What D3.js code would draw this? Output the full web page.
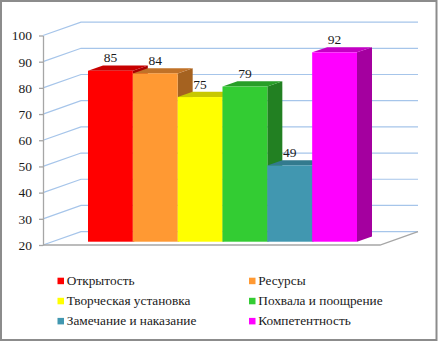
<!DOCTYPE html>
<html>
<head>
<meta charset="utf-8">
<script src="https://cdn.jsdelivr.net/npm/d3@7"></script>
<style>
  html, body { margin: 0; padding: 0; background: #fff; }
  svg { display: block; }
  text { font-family: "Liberation Serif", serif; fill: #1a1a1a; }
</style>
</head>
<body>
<svg class="chart" width="438" height="342"></svg>
<script>
const categories = ['Открытость', 'Ресурсы', 'Творческая установка', 'Похвала и поощрение', 'Замечание и наказание', 'Компетентность'];
const values = [85, 84, 75, 79, 49, 92];
const yTicks = [20, 30, 40, 50, 60, 70, 80, 90, 100];
const frontColors = ['#ff0000', '#ff9933', '#ffff00', '#33cc33', '#4197b0', '#ff00ff'];
const topColors = ['#c80000', '#c07228', '#c8c800', '#289e28', '#337a8e', '#c400c4'];
const sideColors = ['#a80000', '#a56220', '#a8a800', '#228022', '#2c6a7c', '#a4009f'];

const svg = d3.select('.chart');

// outer frame
svg.append('rect')
  .attr('x', 1).attr('y', 1)
  .attr('width', 435.5).attr('height', 339)
  .attr('fill', '#fff')
  .attr('stroke', '#8c8c8c')
  .attr('stroke-width', 2);

// front plane of the axis, back wall is the same thing shifted
const yFront = d3.scaleLinear().domain([20, 100]).range([245, 35.5]);
const wall = { dx: 38, dy: -13.4 };
const xLeft = 43;
const xRight = 380;

const grid = svg.append('g');
grid.selectAll('path').data(yTicks)
  .enter().append('path')
    .attr('fill', 'none')
    .attr('stroke', '#a6c5ea')
    .attr('stroke-width', 1.2)
    .attr('d', d => `M${xLeft},${yFront(d)}L${xLeft + wall.dx},${yFront(d) + wall.dy}L${xRight + wall.dx},${yFront(d) + wall.dy}`);

// floor front and right edges
svg.append('path')
  .attr('fill', 'none')
  .attr('stroke', '#a6a6a6')
  .attr('stroke-width', 1.3)
  .attr('d', `M${xLeft},${yFront(20)}L${xRight},${yFront(20)}L${xRight + wall.dx},${yFront(20) + wall.dy}`);

// left axis
const yAxis = d3.axisLeft(yFront).tickValues(yTicks).tickSize(4).tickSizeOuter(0).tickPadding(7);
const axisG = svg.append('g')
  .attr('transform', `translate(${xLeft},0)`)
  .call(yAxis);
axisG.selectAll('path, line').attr('stroke', '#a6a6a6').attr('stroke-width', 1.3);
axisG.selectAll('text').style('font-size', '13.5px').style('font-family', '"Liberation Serif", serif').attr('fill', '#1a1a1a');

// bars
const xBar = d3.scaleBand().domain(categories).range([88, 357]).padding(0);
const yBar = d3.scaleLinear().domain([20, 100]).range([241.7, 31.3]);
const depth = { dx: 15, dy: -5.2 };

const bars = svg.append('g').selectAll('g').data(categories)
  .enter().append('g');

bars.append('path')
  .attr('fill', (d, i) => sideColors[i])
  .attr('d', (d, i) => {
    const x = xBar(d) + xBar.bandwidth();
    return `M${x},${yBar(values[i])}l${depth.dx},${depth.dy}L${x + depth.dx},${yBar(20) + depth.dy}L${x},${yBar(20)}Z`;
  });

bars.append('path')
  .attr('fill', (d, i) => topColors[i])
  .attr('d', (d, i) => {
    const x = xBar(d);
    return `M${x},${yBar(values[i])}l${depth.dx},${depth.dy}h${xBar.bandwidth()}l${-depth.dx},${-depth.dy}Z`;
  });

bars.append('rect')
  .attr('x', d => xBar(d))
  .attr('y', (d, i) => yBar(values[i]))
  .attr('width', xBar.bandwidth())
  .attr('height', (d, i) => yBar(20) - yBar(values[i]))
  .attr('fill', (d, i) => frontColors[i]);

// value labels
svg.append('g').selectAll('text').data(categories)
  .enter().append('text')
    .attr('x', d => xBar(d) + xBar.bandwidth() / 2)
    .attr('y', (d, i) => yBar(values[i]) - 8.5)
    .attr('text-anchor', 'middle')
    .style('font-size', '13.5px')
    .text((d, i) => values[i]);

// legend, two columns
const legendX = d3.scaleOrdinal().domain([0, 1]).range([57.5, 249]);
const legendY = d3.scalePoint().domain([0, 1, 2]).range([281, 321.2]);
const legend = svg.append('g').selectAll('g').data(categories)
  .enter().append('g')
    .attr('transform', (d, i) => `translate(${legendX(i % 2)},${legendY(Math.floor(i / 2))})`);
legend.append('rect')
  .attr('y', -3.3).attr('width', 6.5).attr('height', 6.5)
  .attr('fill', (d, i) => frontColors[i]);
legend.append('text')
  .attr('x', 9.3).attr('y', 4)
  .style('font-size', '13.3px')
  .text(d => d);
</script>
</body>
</html>
